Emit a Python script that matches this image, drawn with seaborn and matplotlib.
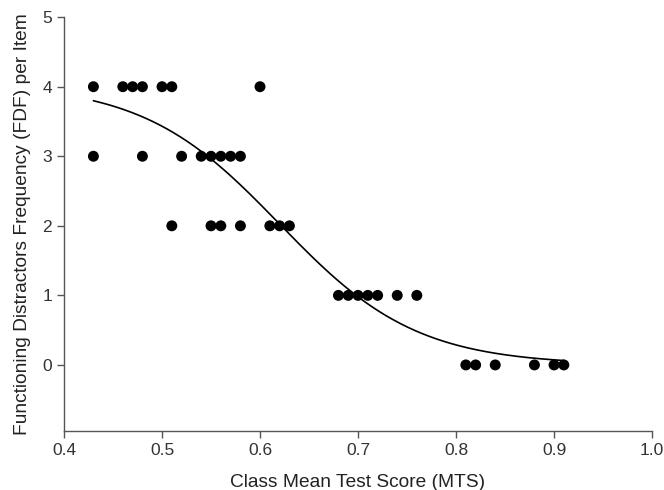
import numpy as np
import pandas as pd
import matplotlib
matplotlib.use("Agg")
import matplotlib.pyplot as plt
import seaborn as sns

# Class mean test score (MTS) and functioning distractors per item (FDF)
mts = [0.43, 0.46, 0.47, 0.48, 0.50, 0.51, 0.60,
       0.43, 0.48, 0.52, 0.54, 0.55, 0.56, 0.57, 0.58,
       0.51, 0.55, 0.56, 0.58, 0.61, 0.62, 0.63,
       0.68, 0.69, 0.70, 0.71, 0.72, 0.74, 0.76,
       0.81, 0.82, 0.84, 0.88, 0.90, 0.91]
fdf = [4, 4, 4, 4, 4, 4, 4,
       3, 3, 3, 3, 3, 3, 3, 3,
       2, 2, 2, 2, 2, 2, 2,
       1, 1, 1, 1, 1, 1, 1,
       0, 0, 0, 0, 0, 0]

# fitted logistic curve (top, midpoint, slope)
fit_top = 4.05
fit_mid = 0.62
fit_slope = 0.07
fit_range = (0.43, 0.91)

x_ticks = [0.4, 0.5, 0.6, 0.7, 0.8, 0.9, 1.0]
y_ticks = [0, 1, 2, 3, 4, 5]

df = pd.DataFrame({"MTS": mts, "FDF": fdf})
xs = np.linspace(fit_range[0], fit_range[1], 200)
curve = pd.DataFrame({"MTS": xs, "FDF": fit_top / (1 + np.exp((xs - fit_mid) / fit_slope))})

sns.set_style("white")
plt.rcParams["font.family"] = ["Liberation Sans", "DejaVu Sans"]

fig = plt.figure(figsize=(6.64, 4.9), dpi=100)
ax = fig.add_axes([0.0964, 0.1204, 0.8856, 0.8446])

sns.lineplot(data=curve, x="MTS", y="FDF", ax=ax, color="black", linewidth=1.2)
sns.scatterplot(data=df, x="MTS", y="FDF", ax=ax, color="black", s=62,
                edgecolor="none", zorder=3)

ax.set_xlim(0.4, 1.0)
ax.set_ylim(-0.95, 5)
ax.set_xticks(x_ticks)
ax.set_xticklabels([f"{t:.1f}" for t in x_ticks])
ax.set_yticks(y_ticks)
ax.set_xlabel("Class Mean Test Score (MTS)", fontsize=13.8, color="#222222", labelpad=12)
ax.set_ylabel("Functioning Distractors Frequency (FDF) per Item", fontsize=13.8,
              color="#222222", labelpad=8)

for side in ["top", "right"]:
    ax.spines[side].set_visible(False)
for side in ["left", "bottom"]:
    ax.spines[side].set_color("#555555")
    ax.spines[side].set_linewidth(1.0)
ax.tick_params(axis="both", direction="out", length=5, width=1, color="#555555",
               labelsize=12.5, labelcolor="#333333", bottom=True, left=True)

fig.savefig("out.png", dpi=100)
